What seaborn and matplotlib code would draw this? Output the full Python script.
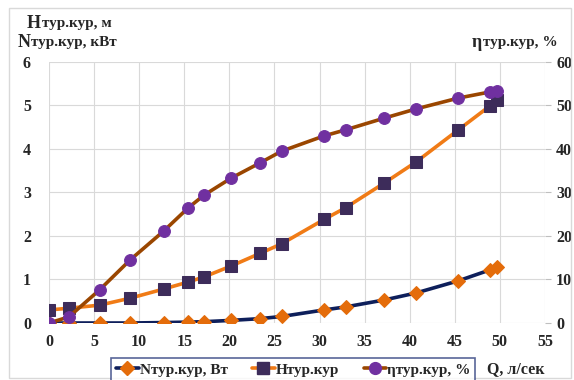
import numpy as np
import matplotlib
matplotlib.use("Agg")
import matplotlib.pyplot as plt
import seaborn as sns
from matplotlib.patches import Rectangle
from matplotlib.lines import Line2D

# data
q = [0, 2.2, 5.6, 9.0, 12.7, 15.4, 17.2, 20.2, 23.4, 25.8, 30.5, 32.9, 37.2, 40.7, 45.4, 48.9, 49.7]
n_tur = [0, 0, 0, 0, 0.01, 0.02, 0.03, 0.06, 0.10, 0.15, 0.30, 0.37, 0.53, 0.69, 0.97, 1.22, 1.29]
h_tur = [0.30, 0.34, 0.41, 0.57, 0.78, 0.94, 1.06, 1.31, 1.60, 1.82, 2.38, 2.65, 3.22, 3.70, 4.44, 4.99, 5.13]
eta_tur = [0, 1.4, 7.6, 14.5, 21.1, 26.4, 29.4, 33.3, 36.8, 39.5, 43.0, 44.4, 47.1, 49.2, 51.7, 53.1, 53.3]

left_ticks = [0, 1, 2, 3, 4, 5, 6]
right_ticks = [0, 10, 20, 30, 40, 50, 60]
x_ticks = [0, 5, 10, 15, 20, 25, 30, 35, 40, 45, 50, 55]

sns.set_style("whitegrid", {"grid.color": "#D9D9D9", "axes.edgecolor": "#D9D9D9"})
plt.rcParams['font.family'] = ['Liberation Serif', 'DejaVu Serif']
plt.rcParams['font.weight'] = 'bold'

fig = plt.figure(figsize=(5.74, 3.8), dpi=100)
fig.patches.append(Rectangle((0.016, 0.005), 0.978, 0.975, transform=fig.transFigure,
                             fill=False, edgecolor="#D9D9D9", linewidth=1))
ax = fig.add_axes([0.0854, 0.15, 0.864, 0.687])

navy = "#0E1F5B"
orange = "#E46C0A"
orange_line = "#F07B16"
dpurple = "#3D2C5A"
brown = "#9A4600"
purple = "#7030A0"

sns.lineplot(x=q, y=n_tur, ax=ax, color=navy, linewidth=2.6, marker='D', markersize=7.5,
             markerfacecolor=orange, markeredgecolor=orange, zorder=3)
sns.lineplot(x=q, y=h_tur, ax=ax, color=orange_line, linewidth=2.6, marker='s', markersize=8,
             markerfacecolor=dpurple, markeredgecolor=dpurple, zorder=4)

ax.set_xlim(0, 55)
ax.set_ylim(0, 6)
ax.set_xticks(x_ticks)
ax.set_yticks(left_ticks)
ax.tick_params(labelsize=11.5, length=0)
ax.tick_params(axis='y', pad=13)
ax.tick_params(axis='x', pad=8)
for lab in ax.get_xticklabels() + ax.get_yticklabels():
    lab.set_fontweight('bold')
for s in ax.spines.values():
    s.set_visible(False)

ax2 = ax.twinx()
sns.lineplot(x=q, y=eta_tur, ax=ax2, color=brown, linewidth=2.6, marker='o', markersize=8.5,
             markerfacecolor=purple, markeredgecolor=purple, zorder=5)
ax2.set_ylim(0, 60)
ax2.set_yticks(right_ticks)
ax2.grid(False)
ax2.tick_params(labelsize=11.5, length=4, color="#BFBFBF", pad=4)
for lab in ax2.get_yticklabels():
    lab.set_fontweight('bold')
for s in ax2.spines.values():
    s.set_visible(False)
ax2.set_ylabel("")

# axis titles: big first letter, smaller rest
def label(x, y, big, rest):
    t = fig.text(x, y, big, fontsize=13, fontweight='bold', ha='left', va='baseline')
    fig.canvas.draw()
    ax.annotate(rest, xy=(1, 0), xycoords=t, fontsize=11, fontweight='bold',
                ha='left', va='bottom', xytext=(0.5, 1.5), textcoords='offset points',
                annotation_clip=False)

label(0.047, 0.927, "Н", "тур.кур, м")
label(0.030, 0.876, "N", "тур.кур, кВт")
label(0.822, 0.876, "η", "тур.кур, %")

fig.text(0.899, 0.03, "Q, л/сек", fontsize=11.5, fontweight='bold', ha='center', va='center')

handles = [
    Line2D([], [], color=navy, linewidth=2.6, marker='D', markersize=7.5,
           markerfacecolor=orange, markeredgecolor=orange),
    Line2D([], [], color=orange_line, linewidth=2.6, marker='s', markersize=8,
           markerfacecolor=dpurple, markeredgecolor=dpurple),
    Line2D([], [], color=brown, linewidth=2.6, marker='o', markersize=8.5,
           markerfacecolor=purple, markeredgecolor=purple),
]
labels = ["Nтур.кур, Вт", "Нтур.кур", "ηтур.кур, %"]
leg = fig.legend(handles, labels, loc='center', bbox_to_anchor=(0.511, 0.027), ncol=3,
                 frameon=True, fancybox=False, handlelength=1.5, handletextpad=0.05,
                 columnspacing=1.6, borderpad=0.3, borderaxespad=0,
                 prop={'size': 11, 'weight': 'bold'})
leg.get_frame().set_edgecolor("#2F3F7F")
leg.get_frame().set_linewidth(1.2)

fig.savefig("out.png", dpi=100)
